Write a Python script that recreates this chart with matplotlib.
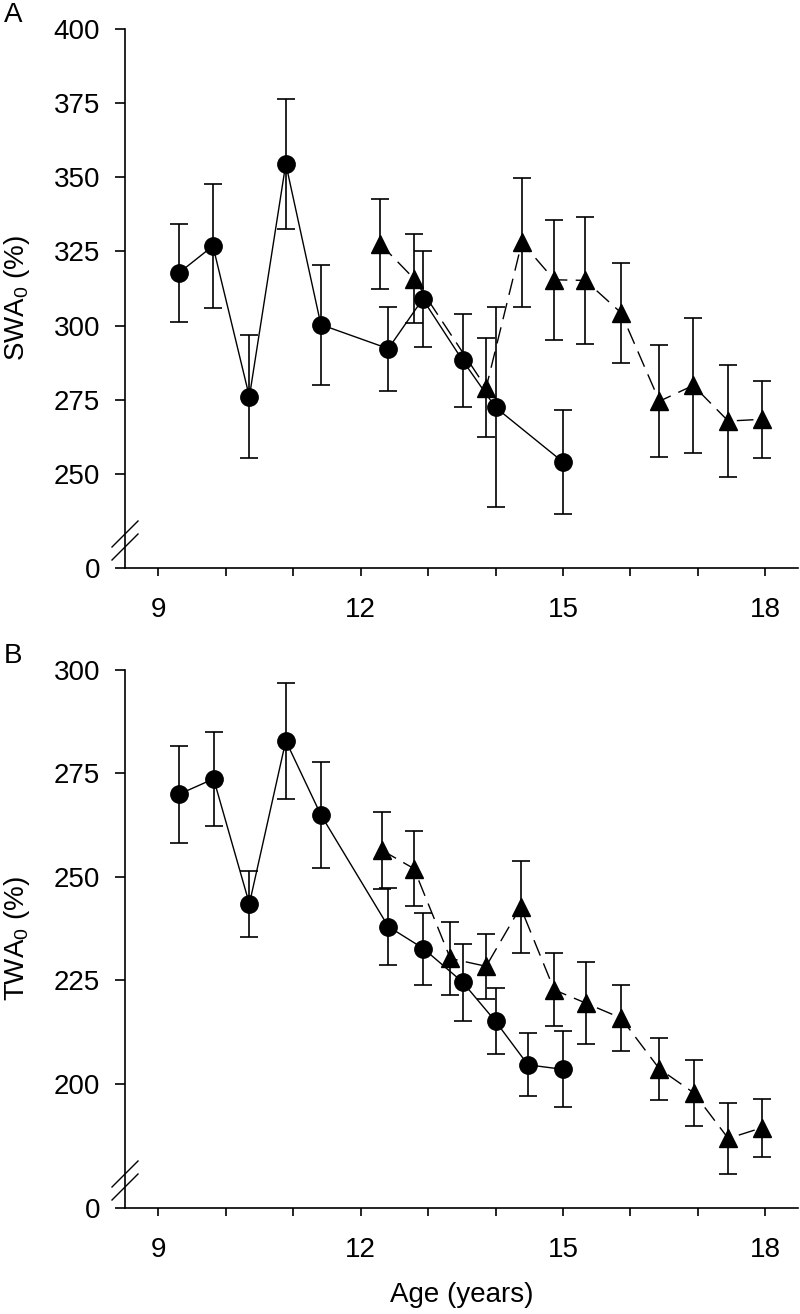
import numpy as np
import matplotlib.pyplot as plt
from matplotlib.ticker import FixedLocator

plt.rcParams['font.family'] = ['Liberation Sans', 'DejaVu Sans']
plt.rcParams['mathtext.default'] = 'regular'

# Panel A: SWA0 (%)
age_a_circ = [9.31, 9.81, 10.35, 10.89, 11.41, 12.41, 12.92, 13.51, 14.00, 15.00]
swa_circ = [317.8, 326.8, 276.0, 354.5, 300.3, 292.2, 308.9, 288.3, 272.4, 254.0]
swa_circ_err = [16.5, 21.0, 20.8, 21.9, 20.2, 14.2, 16.1, 15.7, 33.7, 17.6]

age_a_tri = [12.29, 12.79, 13.86, 14.39, 14.87, 15.33, 15.86, 16.43, 16.93, 17.45, 17.95]
swa_tri = [327.5, 315.8, 279.0, 328.0, 315.4, 315.2, 304.3, 274.5, 279.8, 267.8, 268.4]
swa_tri_err = [15.2, 15.0, 16.7, 21.7, 20.3, 21.5, 16.9, 18.8, 22.6, 19.0, 13.0]

# Panel B: TWA0 (%)
age_b_circ = [9.31, 9.82, 10.35, 10.89, 11.41, 12.41, 12.93, 13.51, 14.00, 14.48, 15.00]
twa_circ = [270.0, 273.7, 243.5, 282.9, 265.0, 238.0, 232.7, 224.6, 215.1, 204.6, 203.5]
twa_circ_err = [11.7, 11.4, 8.0, 14.0, 12.8, 9.3, 8.7, 9.3, 8.0, 7.6, 9.2]

age_b_tri = [12.31, 12.79, 13.33, 13.86, 14.37, 14.87, 15.34, 15.86, 16.43, 16.94, 17.45, 17.95]
twa_tri = [256.5, 252.0, 230.3, 228.4, 242.7, 222.7, 219.5, 215.9, 203.6, 197.8, 186.8, 189.4]
twa_tri_err = [9.3, 9.0, 8.9, 7.8, 11.2, 8.8, 9.9, 8.0, 7.4, 7.9, 8.6, 7.0]

swa_ticks = [250, 275, 300, 325, 350, 375, 400]
twa_ticks = [200, 225, 250, 275, 300]
age_ticks = [9, 12, 15, 18]

W, H = 800, 1314
fig = plt.figure(figsize=(W / 100, H / 100), dpi=100)

left, right = 125 / W, 798 / W
axA = fig.add_axes([left, 1 - 568 / H, right - left, (568 - 28.7) / H])
axB = fig.add_axes([left, 1 - 1208 / H, right - left, (1208 - 670) / H])


def draw_panel(ax, xc, yc, ec, xt, yt, et, zero_pos, ticks, ylabel, letter):
    kw = dict(fmt='none', ecolor='black', elinewidth=1.2, capsize=6.5, capthick=1.2, zorder=2)
    ax.errorbar(xc, yc, yerr=ec, **kw)
    ax.errorbar(xt, yt, yerr=et, **kw)
    ax.plot(xc, yc, '-', color='black', lw=1.0, marker='o', ms=12.5, zorder=3)
    ax.plot(xt, yt, '--', dashes=(12, 6), color='black', lw=1.0, marker='^', ms=13, zorder=3)

    ax.set_xlim(8.506, 18.484)
    ax.set_ylim(zero_pos, ticks[-1])
    ax.set_xticks(age_ticks)
    ax.set_xticklabels([str(t) for t in age_ticks])
    ax.xaxis.set_minor_locator(FixedLocator([10, 11, 13, 14, 16, 17]))
    ax.set_yticks([zero_pos] + ticks)
    ax.set_yticklabels(['0'] + [str(t) for t in ticks])

    for s in ['top', 'right']:
        ax.spines[s].set_visible(False)
    for s in ['left', 'bottom']:
        ax.spines[s].set_linewidth(1.2)
    ax.tick_params(axis='y', length=7, width=1.2, labelsize=20, pad=11)
    ax.tick_params(axis='x', which='both', length=6, width=1.2, labelsize=20, pad=15)

    # axis break marks on the y spine
    pos = ax.get_position()
    wpx, hpx = pos.width * W, pos.height * H
    for y1, y2 in [(8, 34), (21, 47)]:
        ax.plot([-13 / wpx, 13 / wpx], [y1 / hpx, y2 / hpx], color='black', lw=1.0,
                transform=ax.transAxes, clip_on=False, zorder=5)

    cy = pos.y0 + pos.height / 2
    fig.text(17 / W, cy, ylabel, rotation=90, ha='center', va='center', fontsize=20)
    fig.text(4 / W, pos.y1 + 14 / H, letter, ha='left', va='center', fontsize=20)


draw_panel(axA, age_a_circ, swa_circ, swa_circ_err, age_a_tri, swa_tri, swa_tri_err,
           218.3, swa_ticks, 'SWA$_0$ (%)', 'A')
draw_panel(axB, age_b_circ, twa_circ, twa_circ_err, age_b_tri, twa_tri, twa_tri_err,
           170.0, twa_ticks, 'TWA$_0$ (%)', 'B')

fig.text((125 + 798) / 2 / W, 1 - 1295 / H, 'Age (years)', ha='center', va='center', fontsize=20)

fig.savefig('out.png', dpi=100)
